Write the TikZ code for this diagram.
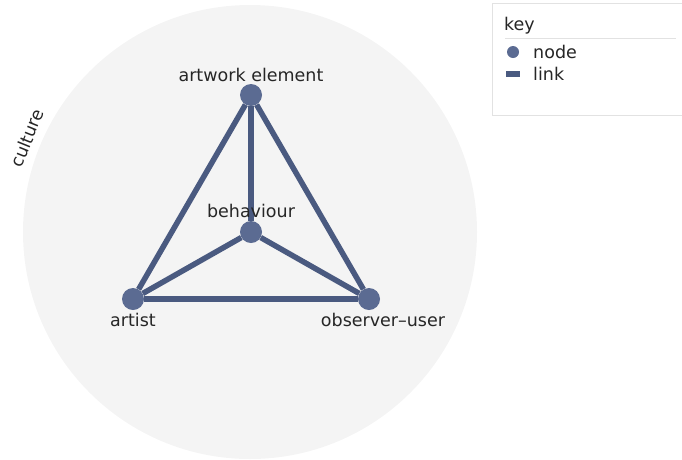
\documentclass[tikz,border=0pt]{standalone}
\usepackage{fontspec}
\setmainfont{DejaVu Sans}
\usetikzlibrary{positioning}
\definecolor{dotc}{HTML}{5B6B92}
\definecolor{linkc}{HTML}{4A5A80}
\definecolor{bg}{HTML}{F4F4F4}
\definecolor{keyline}{HTML}{E2E2E2}
\tikzset{
  % knoten i trekanten
  pt/.style={circle, fill=dotc, minimum size=22pt, inner sep=0pt},
  link/.style={draw=linkc, line width=5.5pt},
  lbl/.style={font=\fontsize{17.5}{20}\selectfont, text=black!85, inner sep=1pt},
}
\begin{document}
\begin{tikzpicture}[x=1pt,y=-1pt]
\useasboundingbox (0,0) rectangle (682,459);

% ----- kultur-cirkel -----
\fill[bg] (250,232) circle (227);
\node[lbl, rotate=68] (culture) at (27,138) {culture};

% ----- knuder -----
\node[pt] (artwork) at (251,95) {};
\node[pt] (behaviour) at (251,232) {};
\node[pt] (artist) at (133,299) {};
\node[pt] (observer) at (369,299) {};

% ----- forbindelser -----
\draw[link] (artwork) -- (artist);
\draw[link] (artwork) -- (observer);
\draw[link] (artwork) -- (behaviour);
\draw[link] (artist) -- (observer);
\draw[link] (behaviour) -- (artist);
\draw[link] (behaviour) -- (observer);

% ----- navne -----
\node[lbl] at (251,75) {artwork element};
\node[lbl] at (251,211) {behaviour};
\node[lbl] at (133,320) {artist};
\node[lbl] at (383,320) {observer–user};

% ----- key -----
\draw[keyline, fill=white] (492,3) rectangle (690,115);
\node[lbl, anchor=west] (key) at (503,26) {key};
\draw[keyline] (505,38) -- (676,38);
\node[pt, minimum size=12pt] (keydot) at (513,52) {};
\node[lbl, anchor=west] at (532,52) {node};
\draw[link] (506,74) coordinate (ka) -- (520,74) coordinate (kb);
\node[lbl, anchor=west] at (532,74) {link};
\end{tikzpicture}
\end{document}
